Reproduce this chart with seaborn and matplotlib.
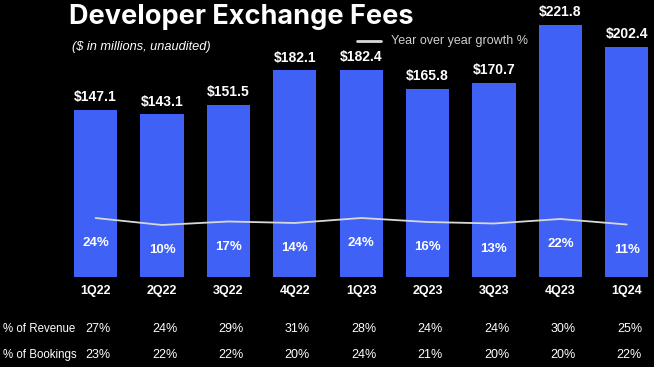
import numpy as np
import pandas as pd
import matplotlib
matplotlib.use("Agg")
import matplotlib.pyplot as plt
import matplotlib.transforms as mtransforms
import seaborn as sns

quarters = ["1Q22", "2Q22", "3Q22", "4Q22", "1Q23", "2Q23", "3Q23", "4Q23", "1Q24"]
fees = [147.1, 143.1, 151.5, 182.1, 182.4, 165.8, 170.7, 221.8, 202.4]
growth = [24, 10, 17, 14, 24, 16, 13, 22, 11]
revenue_pct = [27, 24, 29, 31, 28, 24, 24, 30, 25]
bookings_pct = [23, 22, 22, 20, 24, 21, 20, 20, 22]

sns.set_theme(style="white")
plt.rcParams["font.family"] = ["Liberation Sans", "DejaVu Sans"]

W, H = 654, 367
fig = plt.figure(figsize=(W / 100, H / 100), dpi=100, facecolor="black")

# axes: top at y=5px, bottom at y=277px
ax_left, ax_right = 55.7, 654
ax_top, ax_bot = 5, 277
ax = fig.add_axes([ax_left / W, 1 - ax_bot / H, (ax_right - ax_left) / W, (ax_bot - ax_top) / H])
ax.set_facecolor("black")

df = pd.DataFrame({"quarter": quarters, "fees": fees, "growth": growth})
bar_color = "#3F61F6"
sns.barplot(data=df, x="quarter", y="fees", color=bar_color, width=0.65,
            saturation=1, ax=ax, order=quarters, edgecolor="none", linewidth=0)
ax.set_xlim(-0.6, 8.41)
ax.set_ylim(0, 239.4)
for s in ax.spines.values():
    s.set_visible(False)
ax.set_xlabel("")
ax.set_ylabel("")
ax.set_yticks([])
ax.tick_params(axis="x", length=0, pad=6, colors="white", labelsize=9)
for lbl in ax.get_xticklabels():
    lbl.set_fontweight("bold")

for i, v in enumerate(fees):
    ax.annotate(f"${v:.1f}", (i, v), xytext=(0, 4), textcoords="offset points",
                ha="center", va="bottom", color="white", fontsize=10, fontweight="bold")

# growth line on twin axis
ax2 = ax.twinx()
ax2.set_ylim(-94, 450)
sns.lineplot(x=np.arange(len(quarters)), y=growth, ax=ax2, color="#d8d8d8", linewidth=1.3)
ax2.set_yticks([])
for s in ax2.spines.values():
    s.set_visible(False)
ax2.set_ylabel("")
for i, g in enumerate(growth):
    ax2.annotate(f"{g}%", (i, g), xytext=(0, -18), textcoords="offset points",
                 ha="center", va="center", color="white", fontsize=9.5, fontweight="bold")

# title, subtitle, legend
fig.text(69 / W, 1 - 17 / H, "Developer Exchange Fees", color="white", fontsize=19.5,
         fontweight="bold", family=["Inter", "DejaVu Sans"], va="center", ha="left")
fig.text(72 / W, 1 - 47 / H, "($ in millions, unaudited)", color="white", fontsize=9.2,
         style="italic", va="center", ha="left")
fig.add_artist(plt.Line2D([357 / W, 381 / W], [1 - 41 / H, 1 - 41 / H], color="#d8d8d8",
                          linewidth=2))
fig.text(391 / W, 1 - 41 / H, "Year over year growth %", color="#cfcfcf", fontsize=9,
         va="center", ha="left")

# table rows
trans = mtransforms.blended_transform_factory(ax.transData, fig.transFigure)
rows = [("% of Revenue", revenue_pct, 329), ("% of Bookings", bookings_pct, 355)]
for label, vals, ypx in rows:
    fig.text(3 / W, 1 - ypx / H, label, color="white", fontsize=8.3, va="center", ha="left")
    for i, v in enumerate(vals):
        ax.text(i + 0.04, 1 - ypx / H, f"{v}%", transform=trans, color="white", fontsize=9,
                va="center", ha="center")

fig.savefig("out.png", dpi=100, facecolor="black")
